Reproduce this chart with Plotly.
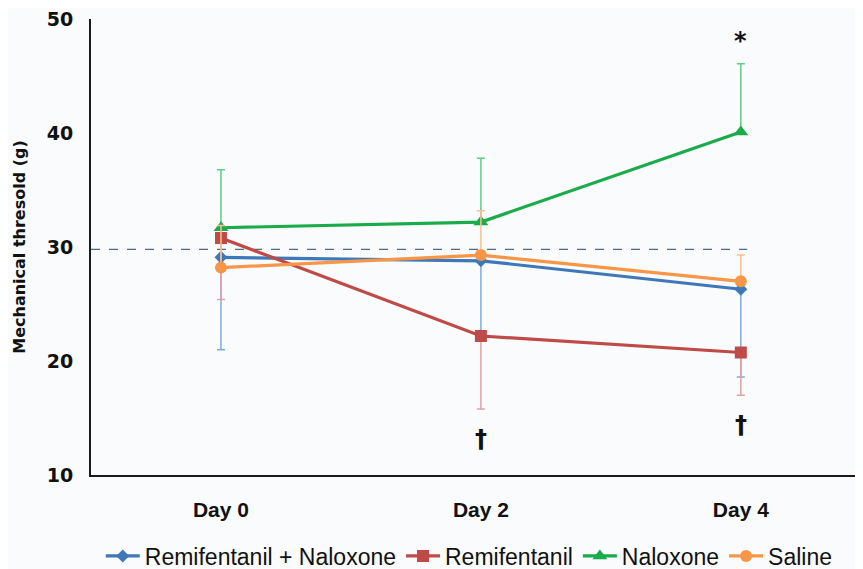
import plotly.graph_objects as go

days = ["Day 0", "Day 2", "Day 4"]

remi_nalox = [29.1, 28.8, 26.3]
remi_nalox_err_minus = [8.1, 6.7, 7.7]

remi = [30.8, 22.2, 20.75]
remi_err_minus = [5.4, 6.4, 3.75]

nalox = [31.7, 32.2, 40.1]
nalox_err_plus = [5.1, 5.6, 6.0]

saline = [28.2, 29.3, 27.0]
saline_err_plus = [3.7, 3.9, 2.3]

baseline = 29.8

y_ticks = [10, 20, 30, 40, 50]

sig_x = ["Day 4", "Day 2", "Day 4"]
sig_y = [48.1, 13.2, 14.4]
sig_text = ["*", "†", "†"]

series = [
    dict(name="Remifentanil + Naloxone", y=remi_nalox, plus=[0, 0, 0], minus=remi_nalox_err_minus,
         color="#3F78B8", ecolor="#7FAAE0", symbol="diamond", size=10),
    dict(name="Remifentanil", y=remi, plus=[0, 0, 0], minus=remi_err_minus,
         color="#BE4B48", ecolor="#DFA3A1", symbol="square", size=12),
    dict(name="Naloxone", y=nalox, plus=nalox_err_plus, minus=[0, 0, 0],
         color="#1AAB4A", ecolor="#5FCB85", symbol="triangle-up", size=13),
    dict(name="Saline", y=saline, plus=saline_err_plus, minus=[0, 0, 0],
         color="#F79646", ecolor="#F9C08F", symbol="circle", size=12),
]

fig = go.Figure()
for s in series:
    fig.add_trace(go.Scatter(
        x=days, y=s["y"], name=s["name"], mode="lines+markers",
        line=dict(color=s["color"], width=3.2),
        marker=dict(color=s["color"], symbol=s["symbol"], size=s["size"]),
        error_y=dict(type="data", symmetric=False, array=s["plus"], arrayminus=s["minus"],
                     color=s["ecolor"], thickness=1.5, width=4),
    ))

fig.add_shape(type="line", xref="paper", yref="y", x0=0, x1=0.85, y0=baseline, y1=baseline,
              line=dict(color="#4F6A85", width=1.2, dash="dash"), layer="below")

for x, y, t in zip(sig_x, sig_y, sig_text):
    fig.add_annotation(x=x, y=y, text=t, showarrow=False,
                       font=dict(size=24, color="#111111", family="DejaVu Sans", weight="bold"))

fig.update_layout(
    width=855, height=561,
    margin=dict(l=83, r=0, t=11, b=94, autoexpand=False),
    paper_bgcolor="#FAFBFD", plot_bgcolor="#FAFBFD",
    showlegend=True,
    legend=dict(orientation="h", x=0.49, xanchor="center", y=-0.1775, yanchor="middle",
                font=dict(size=23, family="Liberation Sans", color="#111111"),
                itemwidth=34, tracegroupgap=0),
    xaxis=dict(type="category", range=[-0.5, 2.47], showgrid=False, zeroline=False,
               showline=True, linecolor="#1A1A1A", linewidth=2, ticks="",
               tickfont=dict(size=21, family="Liberation Sans", color="#111111", weight="bold"),
               ticklabelstandoff=15),
    yaxis=dict(range=[10, 50.02], tickmode="array", tickvals=y_ticks,
               ticktext=[str(v) for v in y_ticks], ticklabeloverflow="allow",
               showgrid=False, zeroline=False,
               showline=True, linecolor="#1A1A1A", linewidth=2, ticks="",
               tickfont=dict(size=19, family="DejaVu Sans", color="#111111", weight="bold"),
               ticklabelstandoff=12,
               title=dict(text="<b>Mechanical thresold (g)</b>",
                          font=dict(size=16, family="DejaVu Sans", color="#111111"), standoff=17)),
)

fig.write_html("out.html")
